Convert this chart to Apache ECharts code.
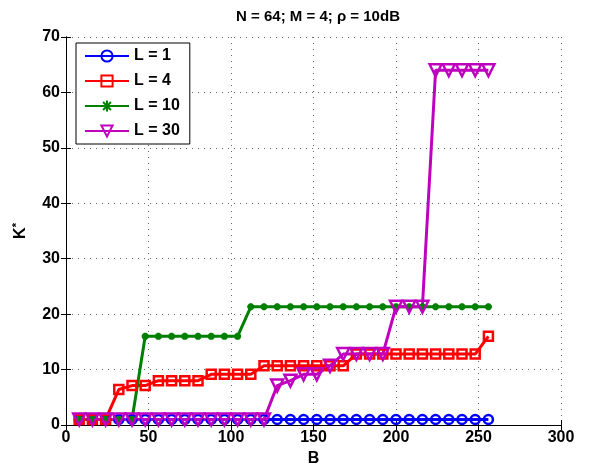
<!DOCTYPE html>
<html>
<head>
<meta charset="utf-8">
<script src="https://cdn.jsdelivr.net/npm/echarts@6/dist/echarts.min.js"></script>
<style>
  html, body { margin: 0; padding: 0; background: #fff; }
  #chart { width: 589px; height: 472px; }
</style>
</head>
<body>
<div id="chart"></div>
<script>
// B values (bits)
var bValues = [8, 16, 24, 32, 40, 48, 56, 64, 72, 80, 88, 96, 104, 112, 120, 128,
               136, 144, 152, 160, 168, 176, 184, 192, 200, 208, 216, 224, 232, 240, 248, 256];

// K* for each L
var kL1 = [1, 1, 1, 1, 1, 1, 1, 1, 1, 1, 1, 1, 1, 1, 1, 1,
           1, 1, 1, 1, 1, 1, 1, 1, 1, 1, 1, 1, 1, 1, 1, 1];
var kL4 = [1, 1, 1, 6.4, 7.11, 7.11, 8, 8, 8, 8, 9.14, 9.14, 9.14, 9.14, 10.67, 10.67,
           10.67, 10.67, 10.67, 10.67, 10.67, 12.8, 12.8, 12.8, 12.8, 12.8, 12.8, 12.8, 12.8, 12.8, 12.8, 16];
var kL10 = [1, 1, 1, 1, 1, 16, 16, 16, 16, 16, 16, 16, 16, 21.33, 21.33, 21.33,
            21.33, 21.33, 21.33, 21.33, 21.33, 21.33, 21.33, 21.33, 21.33, 21.33, 21.33, 21.33, 21.33, 21.33, 21.33, 21.33];
var kL30 = [1, 1, 1, 1, 1, 1, 1, 1, 1, 1, 1, 1, 1, 1, 1, 7.11,
            8, 9.14, 9.14, 10.67, 12.8, 12.8, 12.8, 12.8, 21.33, 21.33, 21.33, 64, 64, 64, 64, 64];

var seriesNames = ['L = 1', 'L = 4', 'L = 10', 'L = 30'];
var seriesColors = ['#0000ff', '#ff0000', '#008000', '#bf00bf'];

var font = 'Liberation Sans, Arial, Helvetica, sans-serif';
var chart = echarts.init(document.getElementById('chart'), null, { renderer: 'canvas' });

function pairs(ys) {
    return bValues.map(function (b, i) { return [b, ys[i]]; });
}

// asterisk marker like matlab '*'
var starPath = 'path://M0,5L10,5M5,0L5,10M1.5,1.5L8.5,8.5M8.5,1.5L1.5,8.5';

function makeSeries(idx, data, symbol, size, rotate) {
    var c = seriesColors[idx];
    return {
        name: seriesNames[idx],
        type: 'line',
        data: pairs(data),
        symbol: symbol,
        symbolSize: size,
        symbolRotate: rotate || 0,
        showAllSymbol: true,
        lineStyle: { color: c, width: 3 },
        itemStyle: { color: 'rgba(255,255,255,0)', borderColor: c, borderWidth: 2.5 },
        emphasis: { disabled: true },
        animation: false
    };
}

var tickStyle = { inside: true, length: 5, lineStyle: { color: '#000' } };
var splitStyle = { show: true, lineStyle: { color: '#666', type: [1, 5], width: 1 } };
var labelStyle = { color: '#000', fontSize: 16, fontWeight: 'bold', fontFamily: font };

var option = {
    backgroundColor: '#fff',
    title: {
        text: 'N = 64; M = 4; \u03c1 = 10dB',
        left: 313, top: 4, textAlign: 'center',
        textStyle: { fontSize: 15, fontWeight: 'bold', color: '#000', fontFamily: font }
    },
    grid: { left: 66, right: 28, top: 37, bottom: 47 },
    legend: {
        orient: 'vertical',
        left: 76, top: 43,
        padding: [5, 10, 5, 8],
        itemWidth: 44, itemHeight: 14, itemGap: 9,
        borderColor: '#000', borderWidth: 1,
        backgroundColor: '#fff',
        textStyle: { fontSize: 16, fontWeight: 'bold', color: '#000', fontFamily: font },
        data: seriesNames
    },
    xAxis: [{
        type: 'value', min: 0, max: 300, interval: 50,
        name: 'B', nameLocation: 'middle', nameGap: 26,
        nameTextStyle: { fontSize: 16, fontWeight: 'bold', color: '#000', fontFamily: font },
        axisLine: { show: true, lineStyle: { color: '#000' } },
        axisTick: tickStyle,
        axisLabel: Object.assign({ margin: 5 }, labelStyle),
        splitLine: splitStyle
    }, {
        type: 'value', min: 0, max: 300, interval: 50, position: 'top',
        axisLine: { show: true, lineStyle: { color: '#000' } },
        axisTick: tickStyle, axisLabel: { show: false }, splitLine: { show: false }
    }],
    yAxis: [{
        type: 'value', min: 0, max: 70, interval: 10,
        name: 'K{sup|*}', nameLocation: 'middle', nameGap: 36, nameRotate: 90,
        nameTextStyle: {
            fontSize: 16, fontWeight: 'bold', color: '#000', fontFamily: font,
            rich: { sup: { fontSize: 11, fontWeight: 'bold', verticalAlign: 'top', padding: [0, 0, 8, 0] } }
        },
        axisLine: { show: true, lineStyle: { color: '#000' } },
        axisTick: tickStyle,
        axisLabel: Object.assign({ margin: 6 }, labelStyle),
        splitLine: splitStyle
    }, {
        type: 'value', min: 0, max: 70, interval: 10, position: 'right',
        axisLine: { show: true, lineStyle: { color: '#000' } },
        axisTick: tickStyle, axisLabel: { show: false }, splitLine: { show: false }
    }],
    series: [
        makeSeries(0, kL1, 'circle', 9),
        makeSeries(1, kL4, 'rect', 9),
        makeSeries(2, kL10, starPath, 7),
        makeSeries(3, kL30, 'triangle', 12, 180)
    ]
};

chart.setOption(option);
</script>
</body>
</html>
